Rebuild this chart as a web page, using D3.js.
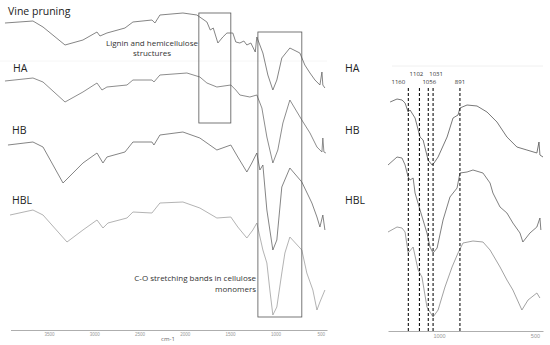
<!DOCTYPE html>
<html>
<head>
<meta charset="utf-8">
<script src="https://cdn.jsdelivr.net/npm/d3@7"></script>
<style>
  body { margin: 0; background: #fff; }
  svg { font-family: "Open Sans", "DejaVu Sans", sans-serif; }
</style>
</head>
<body>
<div id="root"></div>
<script>
// wavenumber (cm-1) / relative transmittance readings, left panel
var vinePruning = [[3986,77],[3677,79],[3566,73],[3323,55],[3125,60],[2970,68],[2937,64],[2860,67],[2661,72],[2573,78],[2363,80],[2330,77],[2275,85],[2021,87],[1867,85],[1756,78],[1719,70],[1686,72],[1635,57],[1580,63],[1535,67],[1470,67],[1437,58],[1392,57],[1348,59],[1315,55],[1271,57],[1222,48],[1205,63],[1138,47],[1083,25],[1028,10],[984,20],[929,42],[840,52],[730,47],[675,35],[618,27],[563,20],[508,15],[486,28],[476,15],[453,12]]
var ha = [[3986,79],[3677,82],[3566,78],[3323,58],[3125,68],[2970,77],[2915,70],[2860,73],[2639,75],[2573,80],[2363,80],[2341,78],[2275,85],[1977,87],[1834,83],[1756,77],[1646,73],[1492,75],[1437,70],[1392,65],[1282,63],[1205,65],[1149,52],[1094,23],[1028,-3],[973,10],[917,37],[840,60],[708,40],[618,27],[541,13],[486,8],[476,22],[464,8],[442,7]]
var hb = [[3953,80],[3677,83],[3566,78],[3345,42],[3125,62],[2970,72],[2904,62],[2860,68],[2661,73],[2573,83],[2363,83],[2341,80],[2275,90],[2021,93],[1834,87],[1646,75],[1492,80],[1415,68],[1315,53],[1260,62],[1205,72],[1171,55],[1138,60],[1094,15],[1028,-25],[984,-15],[929,38],[840,57],[708,43],[597,22],[541,8],[508,-2],[476,10],[453,-5]]
var hbl = [[3930,80],[3677,85],[3566,80],[3301,53],[3125,65],[2970,75],[2904,67],[2849,72],[2639,77],[2573,83],[2363,82],[2275,92],[2021,93],[1834,87],[1646,77],[1492,78],[1415,68],[1315,57],[1249,65],[1205,72],[1138,45],[1094,32],[1061,5],[1028,-20],[984,-12],[929,22],[895,42],[840,58],[708,45],[653,22],[586,5],[541,-15],[508,-7],[453,5]]

// right panel (zoom 1266-458 cm-1)
var haZoom = [[1255,38],[1219,41],[1193,40],[1177,37],[1161,28],[1151,30],[1125,22],[1099,3],[1083,0],[1057,-20],[1036,-25],[1026,-23],[1005,-17],[958,3],[927,22],[901,25],[891,32],[854,35],[802,34],[750,28],[698,18],[646,3],[594,-7],[542,-10],[490,-13],[479,-2],[474,-15],[458,-17]]
var hbZoom = [[1266,40],[1219,48],[1193,47],[1177,40],[1161,28],[1151,25],[1135,27],[1125,12],[1099,-5],[1063,-28],[1047,-42],[1031,-48],[1010,-43],[979,-15],[943,8],[906,17],[891,32],[854,33],[823,35],[771,32],[734,22],[719,12],[682,-2],[646,-8],[615,-18],[578,-28],[563,-37],[526,-28],[490,-22],[474,-13],[469,-25]]
var hblZoom = [[1266,38],[1219,43],[1193,42],[1177,38],[1161,17],[1135,23],[1109,0],[1089,-7],[1063,-37],[1031,-47],[1005,-40],[969,-17],[932,3],[901,17],[875,27],[823,29],[771,28],[734,20],[682,3],[646,-10],[615,-20],[568,-40],[536,-30],[490,-23],[474,-28]]

var leftTicks = [3500, 3000, 2500, 2000, 1500, 1000, 500]
var rightTicks = [1000, 500]
var bandLines = [1160, 1102, 1056, 1031, 891]
var leftLabels = ["Vine pruning", "HA", "HB", "HBL"]
var rightLabels = ["HA", "HB", "HBL"]

var svg = d3.select("#root")
            .append("svg")
            .attr("width", 550)
            .attr("height", 345)

// scales
var xL = d3.scaleLinear().domain([3925, 430]).range([10.5, 327])
var xR = d3.scaleLinear().domain([1266, 458]).range([388, 543])
var y = d3.scaleLinear().domain([0, 100]).range([100, 0])

// faint top lines
svg.append("line").attr("x1", 0).attr("x2", 327).attr("y1", 61).attr("y2", 61)
   .attr("stroke", "#f6f6f6")
svg.append("line").attr("x1", 392).attr("x2", 543).attr("y1", 66).attr("y2", 66)
   .attr("stroke", "#f0f0f0")

var line = function(xs) {
  return d3.line().x(function(d){ return xs(d[0]) }).y(function(d){ return y(d[1]) })
}

// left spectra
var leftSeries = [
  {data: vinePruning, off: 0, color: "#666"},
  {data: ha, off: 60, color: "#707070"},
  {data: hb, off: 125, color: "#666"},
  {data: hbl, off: 195, color: "#a0a0a0"}
]
leftSeries.forEach(function(s){
  svg.append("path")
     .attr("transform", "translate(0," + s.off + ")")
     .attr("d", line(xL)(s.data))
     .attr("fill", "none")
     .attr("stroke", s.color)
     .attr("stroke-width", 0.8)
})

// boxes
svg.append("rect")
   .attr("x", xL(1845)).attr("y", 13)
   .attr("width", xL(1492) - xL(1845)).attr("height", 110)
   .attr("fill", "none").attr("stroke", "#555").attr("stroke-width", 0.8)
svg.append("rect")
   .attr("x", xL(1193)).attr("y", 32)
   .attr("width", xL(708) - xL(1193)).attr("height", 285)
   .attr("fill", "none").attr("stroke", "#555").attr("stroke-width", 0.8)

// left axis
var axL = svg.append("g")
   .attr("transform", "translate(0,330)")
   .call(d3.axisBottom(xL).tickValues(leftTicks).tickFormat(d3.format("d")).tickSize(0).tickPadding(3))
axL.select(".domain").attr("stroke", "#999").attr("stroke-width", 0.8)
axL.selectAll("text").attr("font-size", 4.5).attr("fill", "#999")
svg.append("text").attr("x", 168).attr("y", 341).attr("text-anchor", "middle")
   .attr("font-size", 6).attr("fill", "#666").text("cm-1")

// right spectra
var rightSeries = [
  {data: haZoom, off: 40, color: "#555"},
  {data: hbZoom, off: 105, color: "#606060"},
  {data: hblZoom, off: 170, color: "#8a8a8a"}
]
rightSeries.forEach(function(s){
  svg.append("path")
     .attr("transform", "translate(0," + s.off + ")")
     .attr("d", line(xR)(s.data))
     .attr("fill", "none")
     .attr("stroke", s.color)
     .attr("stroke-width", 0.8)
})

// dashed band markers
svg.selectAll("band")
   .data(bandLines)
   .enter()
   .append("line")
     .attr("x1", function(d){ return xR(d) })
     .attr("x2", function(d){ return xR(d) })
     .attr("y1", 88).attr("y2", 331)
     .attr("stroke", "#111").attr("stroke-width", 1.1)
     .attr("stroke-dasharray", "3,2")

var bandLabelDx = [-10, -3, 1, 3, 0]
var bandLabelY = [84, 76, 84, 76, 84]
svg.selectAll("bandlabel")
   .data(bandLines)
   .enter()
   .append("text")
     .attr("x", function(d, i){ return xR(d) + bandLabelDx[i] })
     .attr("y", function(d, i){ return bandLabelY[i] })
     .attr("text-anchor", "middle")
     .attr("font-size", 6).attr("fill", "#333")
     .text(function(d){ return d })

var axR = svg.append("g")
   .attr("transform", "translate(0,331)")
   .call(d3.axisBottom(xR).tickValues(rightTicks).tickFormat(d3.format("d")).tickSize(0).tickPadding(3))
axR.select(".domain").attr("stroke", "#999").attr("stroke-width", 0.8)
axR.selectAll("text").attr("font-size", 5.5).attr("fill", "#999")

// series labels
var leftLabelY = [15, 72, 134, 204]
var leftLabelX = [8, 13, 12, 12]
svg.selectAll("llab")
   .data(leftLabels)
   .enter()
   .append("text")
     .attr("x", function(d, i){ return leftLabelX[i] })
     .attr("y", function(d, i){ return leftLabelY[i] })
     .attr("font-size", 10.5).attr("fill", "#222")
     .text(function(d){ return d })

var rightLabelY = [72, 134, 204]
svg.selectAll("rlab")
   .data(rightLabels)
   .enter()
   .append("text")
     .attr("x", 345)
     .attr("y", function(d, i){ return rightLabelY[i] })
     .attr("font-size", 10.5).attr("fill", "#222")
     .text(function(d){ return d })

// annotations
var ann1 = svg.append("text").attr("text-anchor", "middle")
   .attr("font-size", 8).attr("fill", "#333")
ann1.append("tspan").attr("x", 152).attr("y", 46).text("Lignin and hemicellulose")
ann1.append("tspan").attr("x", 152).attr("y", 56).text("structures")

var ann2 = svg.append("text").attr("text-anchor", "end")
   .attr("font-size", 8).attr("fill", "#333")
ann2.append("tspan").attr("x", 256).attr("y", 281).text("C-O stretching bands in cellulose")
ann2.append("tspan").attr("x", 256).attr("y", 292).text("monomers")
</script>
</body>
</html>
